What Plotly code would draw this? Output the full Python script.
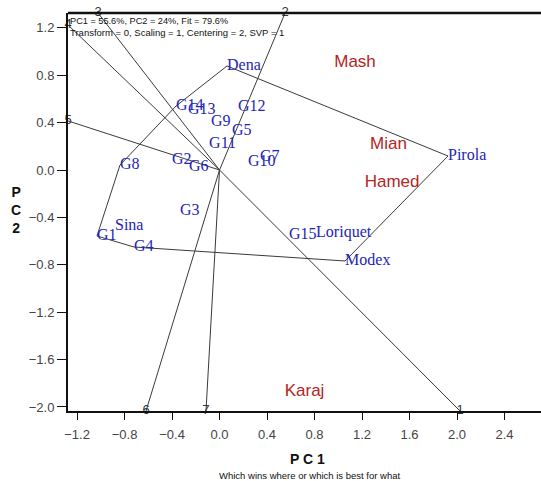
import plotly.graph_objects as go

# Genotype scores on the first two principal components
genotypes = ["G1", "Sina", "G4", "G3", "G15", "Loriquet", "Modex", "Pirola", "Dena",
             "G8", "G14", "G13", "G12", "G9", "G5", "G11", "G2", "G6", "G10", "G7"]
geno_pc1 = [-1.032, -0.880, -0.720, -0.333, 0.585, 0.813, 1.057, 1.924, 0.063,
            -0.838, -0.366, -0.265, 0.156, -0.072, 0.105, -0.088, -0.400, -0.257, 0.240, 0.341]
geno_pc2 = [-0.557, -0.473, -0.650, -0.346, -0.549, -0.532, -0.768, 0.118, 0.878,
            0.042, 0.540, 0.506, 0.532, 0.405, 0.329, 0.219, 0.084, 0.025, 0.068, 0.110]

# Environment scores
environments = ["Mash", "Mian", "Hamed", "Karaj"]
env_pc1 = [1.141, 1.423, 1.453, 0.716]
env_pc2 = [0.903, 0.211, -0.110, -1.873]

# Convex hull of the genotypes (vertex genotypes, in order)
hull = ["G1", "G4", "Modex", "Pirola", "Dena", "G14", "G8"]

# Sector rays from the origin, perpendicular to the hull sides
ray_labels = ["1", "2", "3", "4", "5", "6", "7"]
ray_pc1 = [2.025, 0.552, -1.023, -1.276, -1.276, -0.619, -0.114]
ray_pc2 = [-2.034, 1.325, 1.325, 1.224, 0.414, -2.034, -2.034]

x_ticks = [-1.2, -0.8, -0.4, 0.0, 0.4, 0.8, 1.2, 1.6, 2.0, 2.4]
y_ticks = [-2.0, -1.6, -1.2, -0.8, -0.4, 0.0, 0.4, 0.8, 1.2]

header = ["PC1 = 55.6%, PC2 = 24%, Fit = 79.6%",
          "Transform = 0, Scaling = 1, Centering = 2, SVP = 1"]

LINE = "#3a3a3a"
BLUE = "#2424b4"
RED = "#b42424"

fig = go.Figure()

# hull polygon
pos = {g: (x, y) for g, x, y in zip(genotypes, geno_pc1, geno_pc2)}
hx = [pos[g][0] for g in hull] + [pos[hull[0]][0]]
hy = [pos[g][1] for g in hull] + [pos[hull[0]][1]]
fig.add_trace(go.Scatter(x=hx, y=hy, mode="lines",
                         line=dict(color=LINE, width=1), hoverinfo="skip"))

# rays
rx, ry = [], []
for ex, ey in zip(ray_pc1, ray_pc2):
    rx += [0, ex, None]
    ry += [0, ey, None]
fig.add_trace(go.Scatter(x=rx, y=ry, mode="lines",
                         line=dict(color=LINE, width=1), hoverinfo="skip"))

# ray numbers
fig.add_trace(go.Scatter(x=ray_pc1, y=ray_pc2, mode="text", text=ray_labels,
                         textposition="middle center", cliponaxis=False,
                         textfont=dict(family="Liberation Sans, Arial", size=13, color="#333333")))

# genotype labels
fig.add_trace(go.Scatter(x=geno_pc1, y=geno_pc2, mode="text", text=genotypes,
                         textposition="middle right", cliponaxis=False,
                         marker=dict(size=0),
                         textfont=dict(family="Liberation Serif, Times New Roman", size=16, color=BLUE)))

# environment labels
fig.add_trace(go.Scatter(x=env_pc1, y=env_pc2, mode="text", text=environments,
                         textposition="middle center", cliponaxis=False,
                         textfont=dict(family="Liberation Sans, Arial", size=17, color=RED)))

# frame top edge
fig.add_shape(type="line", xref="paper", yref="paper", x0=0, x1=1, y0=1, y1=1,
              line=dict(color="#111111", width=2.5))

axis_font = dict(family="Liberation Sans, Arial", size=13, color="#444444")
fig.update_xaxes(range=[-1.276, 2.707], tickvals=x_ticks, tickformat=".1f",
                 showgrid=False, zeroline=False, showline=True, linecolor="#111111",
                 linewidth=2, ticks="outside", ticklen=7, tickcolor="#111111",
                 ticklabelstandoff=3, tickfont=axis_font, fixedrange=True)
fig.update_yaxes(range=[-2.034, 1.325], tickvals=y_ticks, tickformat=".1f",
                 showgrid=False, zeroline=False, showline=True, linecolor="#111111",
                 linewidth=2, ticks="outside", ticklen=9, tickcolor="#111111",
                 tickfont=axis_font, fixedrange=True)

annotations = [
    dict(text=header[0], xref="paper", yref="paper", x=0.0, y=0.979,
         xanchor="left", yanchor="middle", showarrow=False,
         font=dict(family="Liberation Sans, Arial", size=9.2, color="#111111")),
    dict(text=header[1], xref="paper", yref="paper", x=0.0, y=0.95,
         xanchor="left", yanchor="middle", showarrow=False,
         font=dict(family="Liberation Sans, Arial", size=9.5, color="#111111")),
    dict(text="<b>P C 1</b>", xref="paper", yref="paper", x=(307.5 - 68) / 473,
         y=-0.12, xanchor="center", yanchor="middle", showarrow=False,
         font=dict(family="Liberation Sans, Arial", size=14, color="#111111")),
    dict(text="Which wins where or which is best for what", xref="paper", yref="paper",
         x=(309 - 68) / 473, y=-0.163, xanchor="center", yanchor="middle", showarrow=False,
         font=dict(family="Liberation Sans, Arial", size=9.5, color="#111111")),
    dict(text="<b>P<br>C<br>2</b>", xref="paper", yref="paper", x=(16 - 68) / 473,
         y=(411 - 210) / 398, xanchor="center", yanchor="middle", showarrow=False,
         align="center",
         font=dict(family="Liberation Sans, Arial", size=14, color="#111111")),
]

fig.update_layout(width=541, height=481, margin=dict(l=68, r=0, t=13, b=70),
                  paper_bgcolor="white", plot_bgcolor="white", showlegend=False,
                  annotations=annotations)

fig.write_html("out.html")
